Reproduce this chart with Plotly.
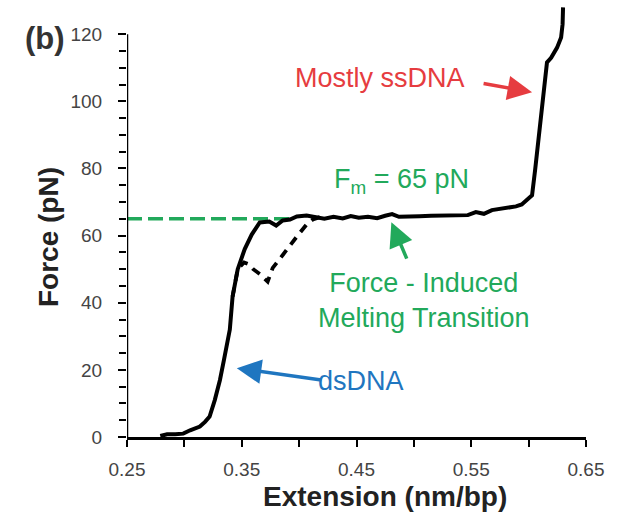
import plotly.graph_objects as go

# Force-extension curve of DNA (solid = stretch)
ext_solid = [0.279, 0.285, 0.292, 0.299, 0.305, 0.3135, 0.318, 0.322, 0.3265, 0.331,
             0.3345, 0.338, 0.3396, 0.342, 0.3465, 0.3526, 0.3587, 0.3657, 0.374, 0.380,
             0.3857, 0.392, 0.398, 0.4065, 0.415, 0.422, 0.430, 0.438, 0.445, 0.452,
             0.460, 0.468, 0.475, 0.481, 0.487, 0.496, 0.505, 0.515, 0.525, 0.5396,
             0.547, 0.554, 0.561, 0.568, 0.578, 0.589, 0.594, 0.598, 0.603, 0.6057,
             0.609, 0.6126, 0.616, 0.6196, 0.6248, 0.6283, 0.6296, 0.630]
force_solid = [0.3, 0.8, 0.8, 1.0, 2.0, 3.1, 4.5, 6.1, 11, 17,
               23, 29, 32, 41.8, 50, 56, 60.3, 63.9, 64.2, 63,
               64.5, 64.8, 65.7, 66, 65.5, 65.0, 65.6, 65.1, 65.8, 65.3,
               65.6, 65.2, 65.9, 66.4, 65.6, 65.8, 65.8, 65.9, 66.0, 66.3,
               66.1, 67.0, 66.5, 67.6, 68.0, 68.7, 69.3, 70.4, 72, 79.7,
               90.7, 100.6, 111.6, 113, 116, 119, 123, 128]

# Dashed branch (alternate trace through the transition)
ext_dash = [0.342, 0.3465, 0.352, 0.356, 0.360, 0.366, 0.3726, 0.377, 0.383, 0.389,
            0.398, 0.4065, 0.412, 0.418]
force_dash = [41.8, 50, 52, 51.5, 50, 48.5, 46.3, 50.4, 53, 55.8,
              59.7, 63.3, 64.8, 65.5]

# Melting force level
fm_value = 65
fm_x = [0.25, 0.393]

x_ticks = [0.25, 0.35, 0.45, 0.55, 0.65]
x_minor = [0.30, 0.40, 0.50, 0.60]
y_ticks = [0, 20, 40, 60, 80, 100, 120]
y_minor = [5, 10, 15, 25, 30, 35, 45, 50, 55, 65, 70, 75, 85, 90, 95, 105, 110, 115]

GREEN = "#22a95b"
RED = "#e63c40"
BLUE = "#1f76c0"
FONT = "Liberation Sans, Arial, sans-serif"

# plot-area geometry in pixels (used to place free-floating labels)
L, T, W, H = 127, 4, 459, 433

fig = go.Figure()
fig.add_trace(go.Scatter(x=fm_x, y=[fm_value, fm_value], mode="lines",
                         line=dict(color=GREEN, width=3.5, dash="15px,6px")))
fig.add_trace(go.Scatter(x=ext_dash, y=force_dash, mode="lines",
                         line=dict(color="black", width=3.8, dash="9px,7px")))
fig.add_trace(go.Scatter(x=ext_solid, y=force_solid, mode="lines",
                         line=dict(color="black", width=4)))

# y axis line stops at 120 while the curve continues above
fig.add_shape(type="line", xref="x", yref="y", x0=0.25, x1=0.25, y0=0, y1=120,
              line=dict(color="black", width=2.5), layer="above")

ann = []
def label(text, x, y, color, size=27):
    ann.append(dict(text=text, x=x, y=y, xref="x", yref="y", showarrow=False,
                    font=dict(family=FONT, size=size, color=color)))

def arrow(x, y, ax, ay, color):
    ann.append(dict(text="", x=x, y=y, xref="x", yref="y", ax=ax, ay=ay,
                    showarrow=True, arrowhead=2, arrowsize=1.4, arrowwidth=3.5,
                    arrowcolor=color, standoff=0))

def px_label(text, px, py, size, color, angle=0):
    ann.append(dict(text=text, x=(px - L) / W, y=(T + H - py) / H,
                    xref="paper", yref="paper", showarrow=False, textangle=angle,
                    xanchor="center", yanchor="middle",
                    font=dict(family=FONT, size=size, color=color)))

label("Mostly ssDNA", 0.4703, 107.0, RED)
label("F<sub>m</sub> = 65 pN", 0.4890, 76.3, GREEN)
label("Force - Induced<br>Melting Transition", 0.5091, 40.8, GREEN)
label("dsDNA", 0.4543, 16.7, BLUE)
arrow(0.603, 102.7, -50, -9, RED)
arrow(0.4804, 64.0, 16, 38, GREEN)
arrow(0.3457, 20.5, 86, 12, BLUE)

px_label("<b>(b)</b>", 45, 38, 31, "#333")
px_label("<b>Extension (nm/bp)</b>", 385, 496, 28, "#222")
px_label("<b>Force (pN)</b>", 48, 237, 28, "#222", angle=-90)

fig.update_layout(
    width=623, height=515,
    margin=dict(l=L, r=623 - L - W, t=T, b=515 - T - H),
    paper_bgcolor="white", plot_bgcolor="white",
    showlegend=False,
    font=dict(family=FONT, color="#333"),
    annotations=ann,
    xaxis=dict(range=[0.25, 0.65], tickmode="array", tickvals=x_ticks,
               ticktext=[f"{v:.2f}" for v in x_ticks],
               showline=True, linecolor="black", linewidth=2.5,
               ticks="outside", ticklen=7, tickwidth=2, tickcolor="black",
               minor=dict(tickmode="array", tickvals=x_minor, ticks="outside",
                          ticklen=7, tickwidth=2, tickcolor="black"),
               showgrid=False, zeroline=False, ticklabelstandoff=6,
               tickfont=dict(size=19, color="#444")),
    yaxis=dict(range=[0, 129], tickmode="array", tickvals=y_ticks,
               showline=False, ticks="outside", ticklen=8, tickwidth=2,
               tickcolor="black",
               minor=dict(tickmode="array", tickvals=y_minor, ticks="outside",
                          ticklen=7, tickwidth=2, tickcolor="black"),
               showgrid=False, zeroline=False, ticklabelstandoff=12,
               tickfont=dict(size=19, color="#444")),
)

fig.write_html("out.html")
